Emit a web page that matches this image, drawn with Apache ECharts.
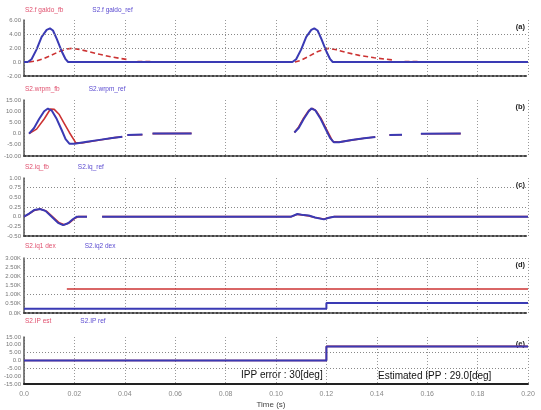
<!DOCTYPE html>
<html><head><meta charset="utf-8">
<script src="https://cdn.jsdelivr.net/npm/echarts@6/dist/echarts.min.js"></script>
<style>html,body{margin:0;padding:0;background:#fff}#c{width:541px;height:410px}</style>
</head><body><div id="c"></div>
<script>
// ---- data (time in s) ----
const xTicks = [0, 0.02, 0.04, 0.06, 0.08, 0.10, 0.12, 0.14, 0.16, 0.18, 0.20];

const legendNames = [
  ['S2.f galdo_fb', 'S2.f galdo_ref'],
  ['S2.wrpm_fb', 'S2.wrpm_ref'],
  ['S2.iq_fb', 'S2.iq_ref'],
  ['S2.iq1 dex', 'S2.iq2 dex'],
  ['S2.IP est', 'S2.IP ref']
];
const panelTags = ['(a)', '(b)', '(c)', '(d)', '(e)'];

// (a)
const aRefT = [0, 0.0015, 0.003, 0.005, 0.007, 0.009, 0.0103, 0.0115, 0.013, 0.015, 0.0165, 0.0175, 0.1065, 0.108, 0.11, 0.112, 0.114, 0.1152, 0.1165, 0.118, 0.12, 0.1215, 0.1225, 0.2];
const aRefV = [0, 0, 0.4, 1.8, 3.6, 4.6, 4.8, 4.5, 3.3, 1.5, 0.4, 0, 0, 0.4, 1.8, 3.6, 4.6, 4.8, 4.5, 3.3, 1.5, 0.4, 0, 0];
const aFbT = [0.002, 0.005, 0.008, 0.011, 0.014, 0.017, 0.019, 0.022, 0.026, 0.03, 0.035, 0.041, 0.043, 0.045, 0.051, 0.053, 0.1075, 0.11, 0.113, 0.116, 0.119, 0.121, 0.124, 0.128, 0.133, 0.139, 0.146, 0.148, 0.151, 0.157, 0.159];
const aFbV = [0, 0.15, 0.5, 1.0, 1.5, 1.85, 1.95, 1.8, 1.45, 1.1, 0.7, 0.35, null, 0.08, 0.08, null, 0, 0.25, 0.8, 1.4, 1.8, 1.95, 1.75, 1.35, 0.95, 0.6, 0.3, null, 0.08, 0.08, null];

// (b)
const bRefT = [0.002, 0.004, 0.006, 0.008, 0.0095, 0.011, 0.013, 0.015, 0.0165, 0.018, 0.02, 0.025, 0.03, 0.035, 0.039, 0.040, 0.041, 0.047, 0.049, 0.051, 0.0665, 0.07, 0.1073, 0.109, 0.111, 0.113, 0.114, 0.1155, 0.1175, 0.1195, 0.1215, 0.123, 0.125, 0.13, 0.135, 0.1394, 0.142, 0.145, 0.150, 0.153, 0.1575, 0.1733];
const bRefV = [0, 2.5, 6.5, 10, 11.2, 10.3, 6.5, 1.5, -2.5, -4.5, -4.5, -3.6, -2.8, -2.0, -1.4, null, -0.6, -0.45, null, 0, 0, null, 0.5, 2.5, 6.5, 10, 11.2, 10.5, 7, 2.5, -2, -3.9, -3.9, -2.9, -2.1, -1.5, null, -0.6, -0.5, null, -0.1, 0];
const bFbT = [0.002, 0.005, 0.008, 0.0105, 0.012, 0.014, 0.016, 0.018, 0.0205, 0.023, 0.027, 0.032, 0.036, 0.039, 0.040, 0.041, 0.047, 0.049, 0.051, 0.0665, 0.07, 0.1073, 0.109, 0.111, 0.113, 0.1145, 0.116, 0.118, 0.12, 0.1225, 0.125, 0.13, 0.135, 0.1394, 0.142, 0.145, 0.150, 0.153, 0.1575, 0.1733];
const bFbV = [0, 2, 6.5, 11, 10.8, 8.5, 4.5, 0.5, -4, -4.2, -3.4, -2.5, -1.8, -1.4, null, -0.6, -0.5, null, 0, 0.1, null, 0.5, 3, 7, 10.3, 11.2, 10, 6.5, 2, -3.5, -3.8, -2.9, -2.1, -1.5, null, -0.6, -0.5, null, -0.1, 0];

// (c)
const cRefT = [0, 0.002, 0.004, 0.0063, 0.0085, 0.011, 0.0135, 0.0155, 0.0175, 0.0195, 0.021, 0.025, 0.028, 0.031, 0.106, 0.1085, 0.111, 0.113, 0.1155, 0.119, 0.121, 0.123, 0.2];
const cRefV = [0, 0.08, 0.17, 0.2, 0.15, 0.0, -0.16, -0.22, -0.17, -0.06, 0, 0, null, 0, 0, 0.07, 0.04, 0.03, -0.02, -0.07, -0.03, 0, 0];
const cFbT = [0, 0.002, 0.004, 0.0065, 0.009, 0.0115, 0.014, 0.016, 0.018, 0.02, 0.0215, 0.025, 0.028, 0.031, 0.106, 0.1085, 0.111, 0.113, 0.1155, 0.119, 0.121, 0.123, 0.2];
const cFbV = [0, 0.07, 0.16, 0.2, 0.14, -0.01, -0.16, -0.21, -0.16, -0.05, 0, 0, null, 0, 0, 0.06, 0.04, 0.02, -0.02, -0.06, -0.03, 0, 0];

// (d)
const dRedT = [0.017, 0.2];
const dRedV = [1310, 1310];
const dBlueT = [0, 0.12, 0.12, 0.2];
const dBlueV = [230, 230, 550, 550];

// (e)
const eRedT = [0, 0.12, 0.12, 0.2];
const eRedV = [0, 0, 9, 9];
const eBlueT = [0, 0.12, 0.12, 0.2];
const eBlueV = [0, 0, 9, 9];

// y axes: [min, max, interval], horizontal grid values
const yAxesDef = [[-2, 6, 2], [-10, 15, 5], [-0.5, 1, 0.25], [0, 3000, 500], [-15, 15, 5]];
const hGrid = [[2, 4], [], [0.25, 0.75], [1000, 2000, 3000], [-5, 5]];

const annot1 = 'IPP error : 30[deg]';
const annot2 = 'Estimated IPP : 29.0[deg]';

// ---- build ----
const RED = '#cc3333', BLUE = '#3a3ab4';
const RED_TXT = '#e0506e', BLUE_TXT = '#5a4ad0';
const FONT = 'Liberation Sans, Arial, sans-serif';

function pairs(t, v) { return t.map((x, i) => [x, v[i] == null ? '-' : v[i]]); }

const gridPos = [
  {top: 20, height: 56}, {top: 100, height: 56}, {top: 178, height: 58},
  {top: 258, height: 55}, {top: 337, height: 48}
];
const legendTop = [7, 86, 164, 243, 318];

const grids = gridPos.map(g => ({left: 24, right: 13, top: g.top, height: g.height, containLabel: false}));

const xAxes = gridPos.map((g, i) => ({
  type: 'value', gridIndex: i, min: 0, max: 0.2, interval: 0.02,
  axisLine: {show: true, onZero: false, lineStyle: i === 4 ? {color: '#222', width: 2} : {color: '#444', width: 2, type: 'dotted'}},
  axisTick: {show: false},
  axisLabel: {show: i === 4, fontSize: 7, color: '#888', fontFamily: FONT, margin: 7,
    formatter: v => v === 0 ? '0.0' : v.toFixed(2)},
  splitLine: {show: true, lineStyle: {color: '#999', type: [1, 2], width: 1}},
  name: i === 4 ? 'Time (s)' : '', nameLocation: 'middle', nameGap: 17,
  nameTextStyle: {fontSize: 8, color: '#444', fontFamily: FONT, padding: [0, 10, 0, 0]}
}));

function yFmt(i) {
  return v => {
    if (i === 3) return v === 0 ? '0.0K' : (v / 1000).toFixed(2) + 'K';
    return v === 0 ? '0.0' : v.toFixed(2);
  };
}
const yAxes = yAxesDef.map((d, i) => ({
  type: 'value', gridIndex: i, min: d[0], max: d[1], interval: d[2],
  axisLine: {show: true, onZero: false, lineStyle: {color: '#555', width: 1.5}},
  axisTick: {show: false},
  axisLabel: {fontSize: 6, color: '#777', fontFamily: FONT, margin: 3, formatter: yFmt(i)},
  splitLine: {show: false}
}));

function gridLines(i) {
  return {
    silent: true, symbol: 'none', label: {show: false},
    lineStyle: {color: '#888', type: [1, 2], width: 1},
    data: hGrid[i].map(v => ({yAxis: v}))
  };
}

const redData = [pairs(aFbT, aFbV), pairs(bFbT, bFbV), pairs(cFbT, cFbV), pairs(dRedT, dRedV), pairs(eRedT, eRedV)];
const blueData = [pairs(aRefT, aRefV), pairs(bRefT, bRefV), pairs(cRefT, cRefV), pairs(dBlueT, dBlueV), pairs(eBlueT, eBlueV)];

const series = [];
for (let i = 0; i < 5; i++) {
  series.push({
    name: legendNames[i][0], type: 'line', xAxisIndex: i, yAxisIndex: i,
    data: redData[i], showSymbol: false, connectNulls: false, animation: false,
    lineStyle: {color: RED, width: i === 3 ? 1.5 : 1.6, type: i === 0 ? [5, 3] : 'solid'},
    itemStyle: {color: RED}, z: 3,
    markLine: gridLines(i)
  });
  series.push({
    name: legendNames[i][1], type: 'line', xAxisIndex: i, yAxisIndex: i,
    data: blueData[i], showSymbol: false, connectNulls: false, animation: false,
    lineStyle: {color: BLUE, width: 2}, itemStyle: {color: BLUE}, z: 4
  });
}

const legends = legendNames.map((n, i) => ({
  top: legendTop[i], left: 20, icon: 'none', itemWidth: 0, itemHeight: 7, itemGap: 24,
  selectedMode: false, padding: 0,
  textStyle: {fontSize: 6.5, fontFamily: FONT},
  data: [{name: n[0], textStyle: {color: RED_TXT}}, {name: n[1], textStyle: {color: BLUE_TXT}}]
}));

const graphics = panelTags.map((t, i) => ({
  type: 'text', right: 16, top: gridPos[i].top + 3,
  style: {text: t, fontSize: 7.5, fontWeight: 'bold', fill: '#222', fontFamily: FONT}
}));
graphics.push({type: 'text', left: 241, top: 370, style: {text: annot1, fontSize: 10, fill: '#111', fontFamily: FONT}});
graphics.push({type: 'text', left: 378, top: 371, style: {text: annot2, fontSize: 10, fill: '#111', fontFamily: FONT}});

const chart = echarts.init(document.getElementById('c'), null, {renderer: 'canvas'});
chart.setOption({
  animation: false,
  backgroundColor: '#fff',
  grid: grids, xAxis: xAxes, yAxis: yAxes, series: series,
  legend: legends, graphic: graphics
});
</script></body></html>
